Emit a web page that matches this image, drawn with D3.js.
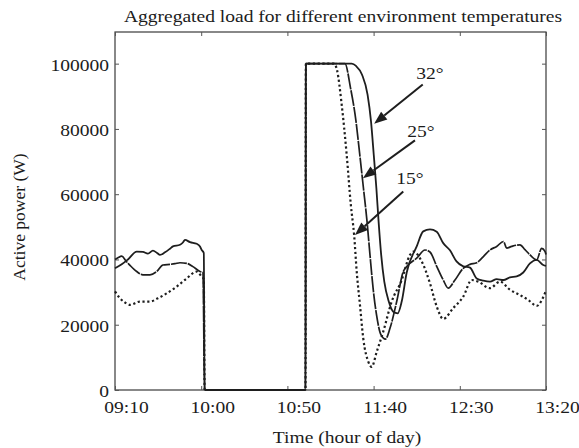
<!DOCTYPE html>
<html><head><meta charset="utf-8">
<script src="https://cdn.jsdelivr.net/npm/d3@7"></script>
<style>
body{margin:0;background:#fff}
svg text{font-family:"Liberation Serif","Times New Roman",serif;fill:#1c1c1c}
</style>
</head><body>
<svg id="chart" width="579" height="448"></svg>
<script>
// ---------- data (time = minutes of day, power in W) ----------
const chartTitle = "Aggregated load for different environment temperatures";
const xAxisTitle = "Time (hour of day)";
const yAxisTitle = "Active power (W)";
const xTickValues = [550, 600, 650, 700, 750, 800];           // 09:10 ... 13:20
const yTickValues = [0, 20000, 40000, 60000, 80000, 100000];
const xDomain = [550, 800];
const yDomain = [0, 109700];

const time15 = [550,552.9,555.8,558.7,564.5,570.3,574.9,580,585.8,591.6,597.4,600.3,601.5,602,660.5,660.7,677,678.8,681.5,684.4,686.8,688.7,690.2,692.1,694,696.9,698.9,701.8,705.6,710.5,716.3,721.1,723.1,727.9,732.7,736.6,740.4,746.2,752,756.9,760.7,767.5,773.3,779.1,784.9,789.7,794.6,799.4,800];
const power15 = [30200,28100,26800,26100,27100,27100,28100,29600,31700,34200,36300,34700,34000,0,0,100000,100000,98000,87400,72000,56700,47500,36300,26000,15800,8700,7100,11700,17900,27100,33700,41400,42400,39400,32700,25600,21800,25100,28600,33700,33200,31200,33200,30700,29100,27600,25800,29700,30500];

const time25 = [550,551.7,553.9,556.4,558.7,562.6,566.2,570.3,574.2,577.8,581.9,584.8,587.7,591.6,595.2,599.3,601,602,660.5,660.7,683.4,686.6,689.8,692,694.1,696.2,697.9,699.7,701.7,704.3,706.9,709.5,713.4,717.2,720.1,725,729.8,732.7,736.6,740.4,743.3,747.2,752,755.9,759.8,763.7,767.5,771.4,775.3,777.2,780.1,784.9,787.8,790.7,794.6,797.5,799.4,800];
const power25 = [40000,40500,41000,39500,38200,36300,35300,35300,36300,38300,38500,38700,39000,38800,37800,36300,36000,0,0,100000,100000,92600,82300,72000,61900,51600,41400,31200,23000,16900,15600,18900,27100,36300,38300,40400,42900,42300,37900,33700,31200,33700,37300,38500,39000,40900,42900,44000,45500,43500,44000,44500,43000,41400,39900,43400,42500,41500];

const time32 = [550,553.9,557.5,562.6,566.2,569.1,572,574.4,576.1,579,581.9,583.6,587.7,589.4,590.6,593.5,597.4,599.3,600.3,601.5,602,660.5,660.7,687.3,689.8,693.3,696.5,698.5,700.1,701.6,702.9,704.4,706.2,708.8,711.4,714,716.3,719.2,725,728.8,732.7,736.6,740.4,744.3,748.1,752,755.9,759.8,763.7,767.5,771.4,775.3,779.1,783,786.8,790.7,794.6,798.4,800];
const power32 = [37300,38500,40000,42400,42300,41800,42700,42000,41400,42200,43300,44000,44500,45200,46000,45300,44800,44000,42900,42000,0,0,100000,100000,99300,96600,90500,82300,72000,61900,51600,41400,33200,27100,24000,23500,27100,36000,44000,48600,49200,48500,45000,42800,39400,37900,37500,34200,33500,33200,34000,33700,34500,34800,36000,38800,39900,38300,38000];

// annotations: label, arrow tip (time, power), arrow tail (time, power), label position
const annLabels   = ["32°", "25°", "15°"];
const annTipTime  = [700.3, 693.8, 689.2];
const annTipPower = [81600, 64900, 47500];
const annTailTime = [728.5, 724.0, 717.2];
const annTailPower= [93600, 76500, 60800];
const annTextTime = [732.7, 727.5, 721.1];
const annTextPower= [97000, 79300, 64800];

// ---------- layout ----------
const svg = d3.select("#chart");
const m = {left:115, right:33, top:32, bottom:58};
const W = 579, H = 448;
const x = d3.scaleLinear().domain(xDomain).range([m.left, W - m.right]);
const y = d3.scaleLinear().domain(yDomain).range([H - m.bottom, m.top]);
const stretch = 1.15;
const fmtTime = t => String(Math.floor(t/60)).padStart(2,"0") + ":" + String(t%60).padStart(2,"0");

// frame
svg.append("rect").attr("x", m.left).attr("y", m.top)
  .attr("width", W - m.left - m.right).attr("height", H - m.top - m.bottom)
  .attr("fill", "none").attr("stroke", "#3a3a3a").attr("stroke-width", 1.2);

// axes with inward ticks
const gx = svg.append("g").attr("transform", `translate(0,${H - m.bottom})`)
  .call(d3.axisBottom(x).tickValues(xTickValues).tickFormat(fmtTime).tickSize(-4).tickPadding(11));
const gy = svg.append("g").attr("transform", `translate(${m.left},0)`)
  .call(d3.axisLeft(y).tickValues(yTickValues).tickFormat(d3.format("d")).tickSize(-4).tickPadding(6));
const gxt = svg.append("g").attr("transform", `translate(0,${m.top})`)
  .call(d3.axisTop(x).tickValues(xTickValues).tickFormat("").tickSize(-4));
const gyr = svg.append("g").attr("transform", `translate(${W - m.right},0)`)
  .call(d3.axisRight(y).tickValues(yTickValues).tickFormat("").tickSize(-4));
[gx, gy, gxt, gyr].forEach(g => {
  g.select(".domain").remove();
  g.selectAll(".tick line").attr("stroke", "#555").attr("stroke-width", 1);
});
gx.selectAll(".tick text").each(function(){
  const t = d3.select(this);
  const yy = +t.attr("y");
  t.attr("x", null).attr("y", null).attr("dy", "0.71em")
   .attr("transform", `translate(11,${yy}) scale(${stretch},1)`)
   .style("font-size", "17px");
});
gy.selectAll(".tick text").each(function(){
  const t = d3.select(this);
  const xx = +t.attr("x");
  t.attr("x", null).attr("transform", `translate(${xx},1) scale(${stretch},1)`)
   .style("font-size", "17px");
});
svg.selectAll(".tick text").attr("fill", "#1c1c1c");

// titles
svg.append("text").attr("transform", `translate(343,22) scale(${stretch},1)`)
  .attr("text-anchor", "middle").style("font-size", "17px").text(chartTitle);
svg.append("text").attr("transform", `translate(347,443) scale(${stretch},1)`)
  .attr("text-anchor", "middle").style("font-size", "17px").text(xAxisTitle);
svg.append("text").attr("transform", `translate(25,217) rotate(-90)`)
  .attr("text-anchor", "middle").style("font-size", "17.5px").text(yAxisTitle);

// series
const line = d3.line().x(d => x(d[0])).y(d => y(d[1])).curve(d3.curveMonotoneX);
const series = [
  {t: time15, p: power15, dash: "2.2,2.6", w: 2.2},
  {t: time25, p: power25, dash: "16,1", w: 1.7},
  {t: time32, p: power32, dash: null,    w: 1.8}
];
series.forEach(s => {
  svg.append("path").datum(s.t.map((t, i) => [t, s.p[i]]))
    .attr("d", line).attr("fill", "none").attr("stroke", "#1e1e1e")
    .attr("stroke-width", s.w).attr("stroke-dasharray", s.dash)
    .attr("stroke-linejoin", "round");
});

// annotations
annLabels.forEach((lab, i) => {
  const x1 = x(annTailTime[i]), y1 = y(annTailPower[i]);
  const x2 = x(annTipTime[i]), y2 = y(annTipPower[i]);
  const ang = Math.atan2(y2 - y1, x2 - x1);
  const hl = 13, hw = 5;
  const bx = x2 - hl * Math.cos(ang), by = y2 - hl * Math.sin(ang);
  svg.append("line").attr("x1", x1).attr("y1", y1).attr("x2", bx).attr("y2", by)
    .attr("stroke", "#1e1e1e").attr("stroke-width", 2);
  const px = -Math.sin(ang), py = Math.cos(ang);
  svg.append("polygon")
    .attr("points", [[x2, y2], [bx + hw*px, by + hw*py], [bx - hw*px, by - hw*py]].map(p => p.join(",")).join(" "))
    .attr("fill", "#1e1e1e");
  svg.append("text").attr("transform", `translate(${x(annTextTime[i])},${y(annTextPower[i])}) scale(${stretch},1)`)
    .attr("text-anchor", "middle").attr("dy", "0.35em").style("font-size", "17px").text(lab);
});
</script>
</body></html>
